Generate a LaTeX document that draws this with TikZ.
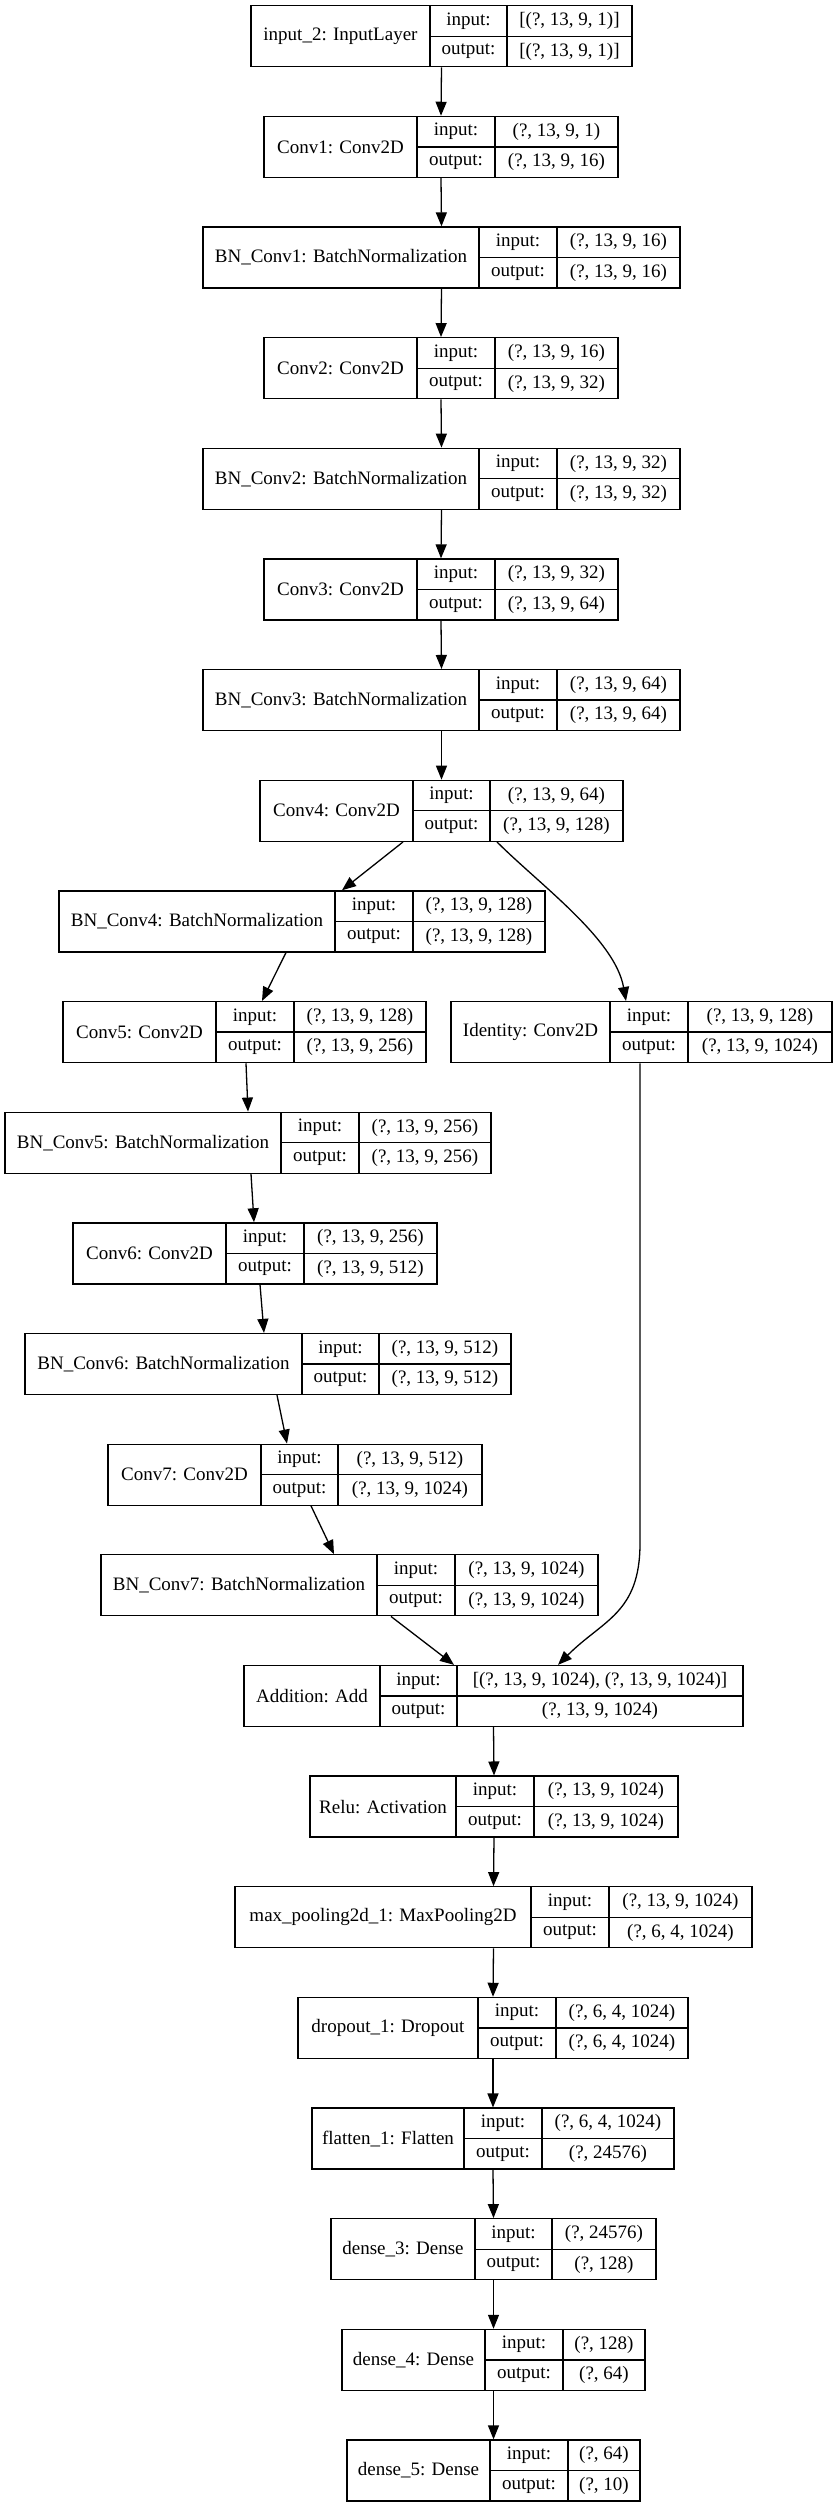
\documentclass[tikz,border=0pt]{standalone}
\usepackage{fontspec}
\setmainfont{Liberation Serif}
\usetikzlibrary{shapes,arrows}
\usetikzlibrary{arrows.meta}

% one keras layer record: id, x0, x1, x2, x3, top, name, input, output
\newcommand{\layer}[9]{%
\node (#1) at ({(#2+#5)/2},{#6+30.5}) [shape=rectangle, draw, minimum width={(#5-#2)*1pt}, minimum height=61pt] {};
\node (#1-name) at ({(#2+#3)/2},{#6+30.5}) {#7};
\node (#1-inl) at ({(#3+#4)/2},{#6+15.25}) {input:};
\node (#1-outl) at ({(#3+#4)/2},{#6+45.75}) {output:};
\node (#1-in) at ({(#4+#5)/2},{#6+15.25}) {#8};
\node (#1-out) at ({(#4+#5)/2},{#6+45.75}) {#9};
\draw (#3,#6) -- (#3,{#6+61}) (#4,#6) -- (#4,{#6+61}) (#3,{#6+30.5}) -- (#5,{#6+30.5});
}

\begin{document}
\begin{tikzpicture}[x=1pt, y=-1pt, line width=1.3pt, inner sep=0pt,
  font=\fontsize{19}{22}\selectfont, >={Triangle[length=14pt,width=11pt]}]
\useasboundingbox (0,0) rectangle (833,2508);

\layer{input}{251}{430}{507}{632}{5.7}{input\_2: InputLayer}{[(?, 13, 9, 1)]}{[(?, 13, 9, 1)]}
\layer{conv1}{264}{417}{495}{618}{116.4}{Conv1: Conv2D}{(?, 13, 9, 1)}{(?, 13, 9, 16)}
\layer{bnconv1}{203}{479}{557}{680}{227}{BN\_Conv1: BatchNormalization}{(?, 13, 9, 16)}{(?, 13, 9, 16)}
\layer{conv2}{264}{417}{495}{618}{337.7}{Conv2: Conv2D}{(?, 13, 9, 16)}{(?, 13, 9, 32)}
\layer{bnconv2}{203}{479}{557}{680}{448.3}{BN\_Conv2: BatchNormalization}{(?, 13, 9, 32)}{(?, 13, 9, 32)}
\layer{conv3}{264}{417}{495}{618}{559}{Conv3: Conv2D}{(?, 13, 9, 32)}{(?, 13, 9, 64)}
\layer{bnconv3}{203}{479}{557}{680}{669.6}{BN\_Conv3: BatchNormalization}{(?, 13, 9, 64)}{(?, 13, 9, 64)}
\layer{conv4}{260}{413}{490}{623}{780.3}{Conv4: Conv2D}{(?, 13, 9, 64)}{(?, 13, 9, 128)}
\layer{bnconv4}{59}{335}{413}{545}{890.9}{BN\_Conv4: BatchNormalization}{(?, 13, 9, 128)}{(?, 13, 9, 128)}
\layer{conv5}{63}{216}{294}{426}{1001.6}{Conv5: Conv2D}{(?, 13, 9, 128)}{(?, 13, 9, 256)}
\layer{identity}{451}{610}{688}{832}{1001.6}{Identity: Conv2D}{(?, 13, 9, 128)}{(?, 13, 9, 1024)}
\layer{bnconv5}{5}{281}{359}{491}{1112.2}{BN\_Conv5: BatchNormalization}{(?, 13, 9, 256)}{(?, 13, 9, 256)}
\layer{conv6}{73}{226}{304}{437}{1222.9}{Conv6: Conv2D}{(?, 13, 9, 256)}{(?, 13, 9, 512)}
\layer{bnconv6}{25}{302}{379}{511}{1333.5}{BN\_Conv6: BatchNormalization}{(?, 13, 9, 512)}{(?, 13, 9, 512)}
\layer{conv7}{108}{261}{338}{482}{1444.2}{Conv7: Conv2D}{(?, 13, 9, 512)}{(?, 13, 9, 1024)}
\layer{bnconv7}{101}{377}{455}{598}{1554.8}{BN\_Conv7: BatchNormalization}{(?, 13, 9, 1024)}{(?, 13, 9, 1024)}
\layer{addition}{244}{380}{457}{743}{1665.5}{Addition: Add}{[(?, 13, 9, 1024), (?, 13, 9, 1024)]}{(?, 13, 9, 1024)}
\layer{relu}{310}{456}{534}{678}{1776.1}{Relu: Activation}{(?, 13, 9, 1024)}{(?, 13, 9, 1024)}
\layer{maxpool}{235}{531}{609}{752}{1886.8}{max\_pooling2d\_1: MaxPooling2D}{(?, 13, 9, 1024)}{(?, 6, 4, 1024)}
\layer{dropout}{298}{478}{556}{688}{1997.4}{dropout\_1: Dropout}{(?, 6, 4, 1024)}{(?, 6, 4, 1024)}
\layer{flatten}{312}{464}{542}{674}{2108.1}{flatten\_1: Flatten}{(?, 6, 4, 1024)}{(?, 24576)}
\layer{dense3}{331}{475}{552}{656}{2218.7}{dense\_3: Dense}{(?, 24576)}{(?, 128)}
\layer{dense4}{342}{485}{563}{645}{2329.4}{dense\_4: Dense}{(?, 128)}{(?, 64)}
\layer{dense5}{347}{490}{568}{640}{2440}{dense\_5: Dense}{(?, 64)}{(?, 10)}

\draw [->] (input.south) -- (conv1.north);
\draw [->] (conv1.south) -- (bnconv1.north);
\draw [->] (bnconv1.south) -- (conv2.north);
\draw [->] (conv2.south) -- (bnconv2.north);
\draw [->] (bnconv2.south) -- (conv3.north);
\draw [->] (conv3.south) -- (bnconv3.north);
\draw [->] (bnconv3.south) -- (conv4.north);
\draw [->] ([xshift=-38.5pt]conv4.south) -- ([xshift=40pt]bnconv4.north);
\draw [->] ([xshift=55.5pt]conv4.south) .. controls +(43pt,-43pt) and +(-11pt,62pt) .. ([xshift=-15.5pt]identity.north);
\draw [->] ([xshift=-16pt]bnconv4.south) -- ([xshift=17.5pt]conv5.north);
\draw [->] ([xshift=1.5pt]conv5.south) -- (bnconv5.north);
\draw [->] ([xshift=3pt]bnconv5.south) -- ([xshift=-1pt]conv6.north);
\draw [->] ([xshift=5pt]conv6.south) -- ([xshift=-4pt]bnconv6.north);
\draw [->] ([xshift=9pt]bnconv6.south) -- ([xshift=-8pt]conv7.north);
\draw [->] ([xshift=16pt]conv7.south) -- ([xshift=-15.5pt]bnconv7.north);
\draw [->] ([xshift=41.5pt]bnconv7.south) -- ([xshift=-39.5pt]addition.north);
\draw [->] ([xshift=-1.5pt]identity.south) -- ++(0pt,-480pt) .. controls +(0pt,-70pt) and +(45pt,45pt) .. ([xshift=64.5pt]addition.north);
\draw [->] (addition.south) -- (relu.north);
\draw [->] (relu.south) -- (maxpool.north);
\draw [->] (maxpool.south) -- (dropout.north);
\draw [->] (dropout.south) -- (flatten.north);
\draw [->] (flatten.south) -- (dense3.north);
\draw [->] (dense3.south) -- (dense4.north);
\draw [->] (dense4.south) -- (dense5.north);
\end{tikzpicture}
\end{document}
